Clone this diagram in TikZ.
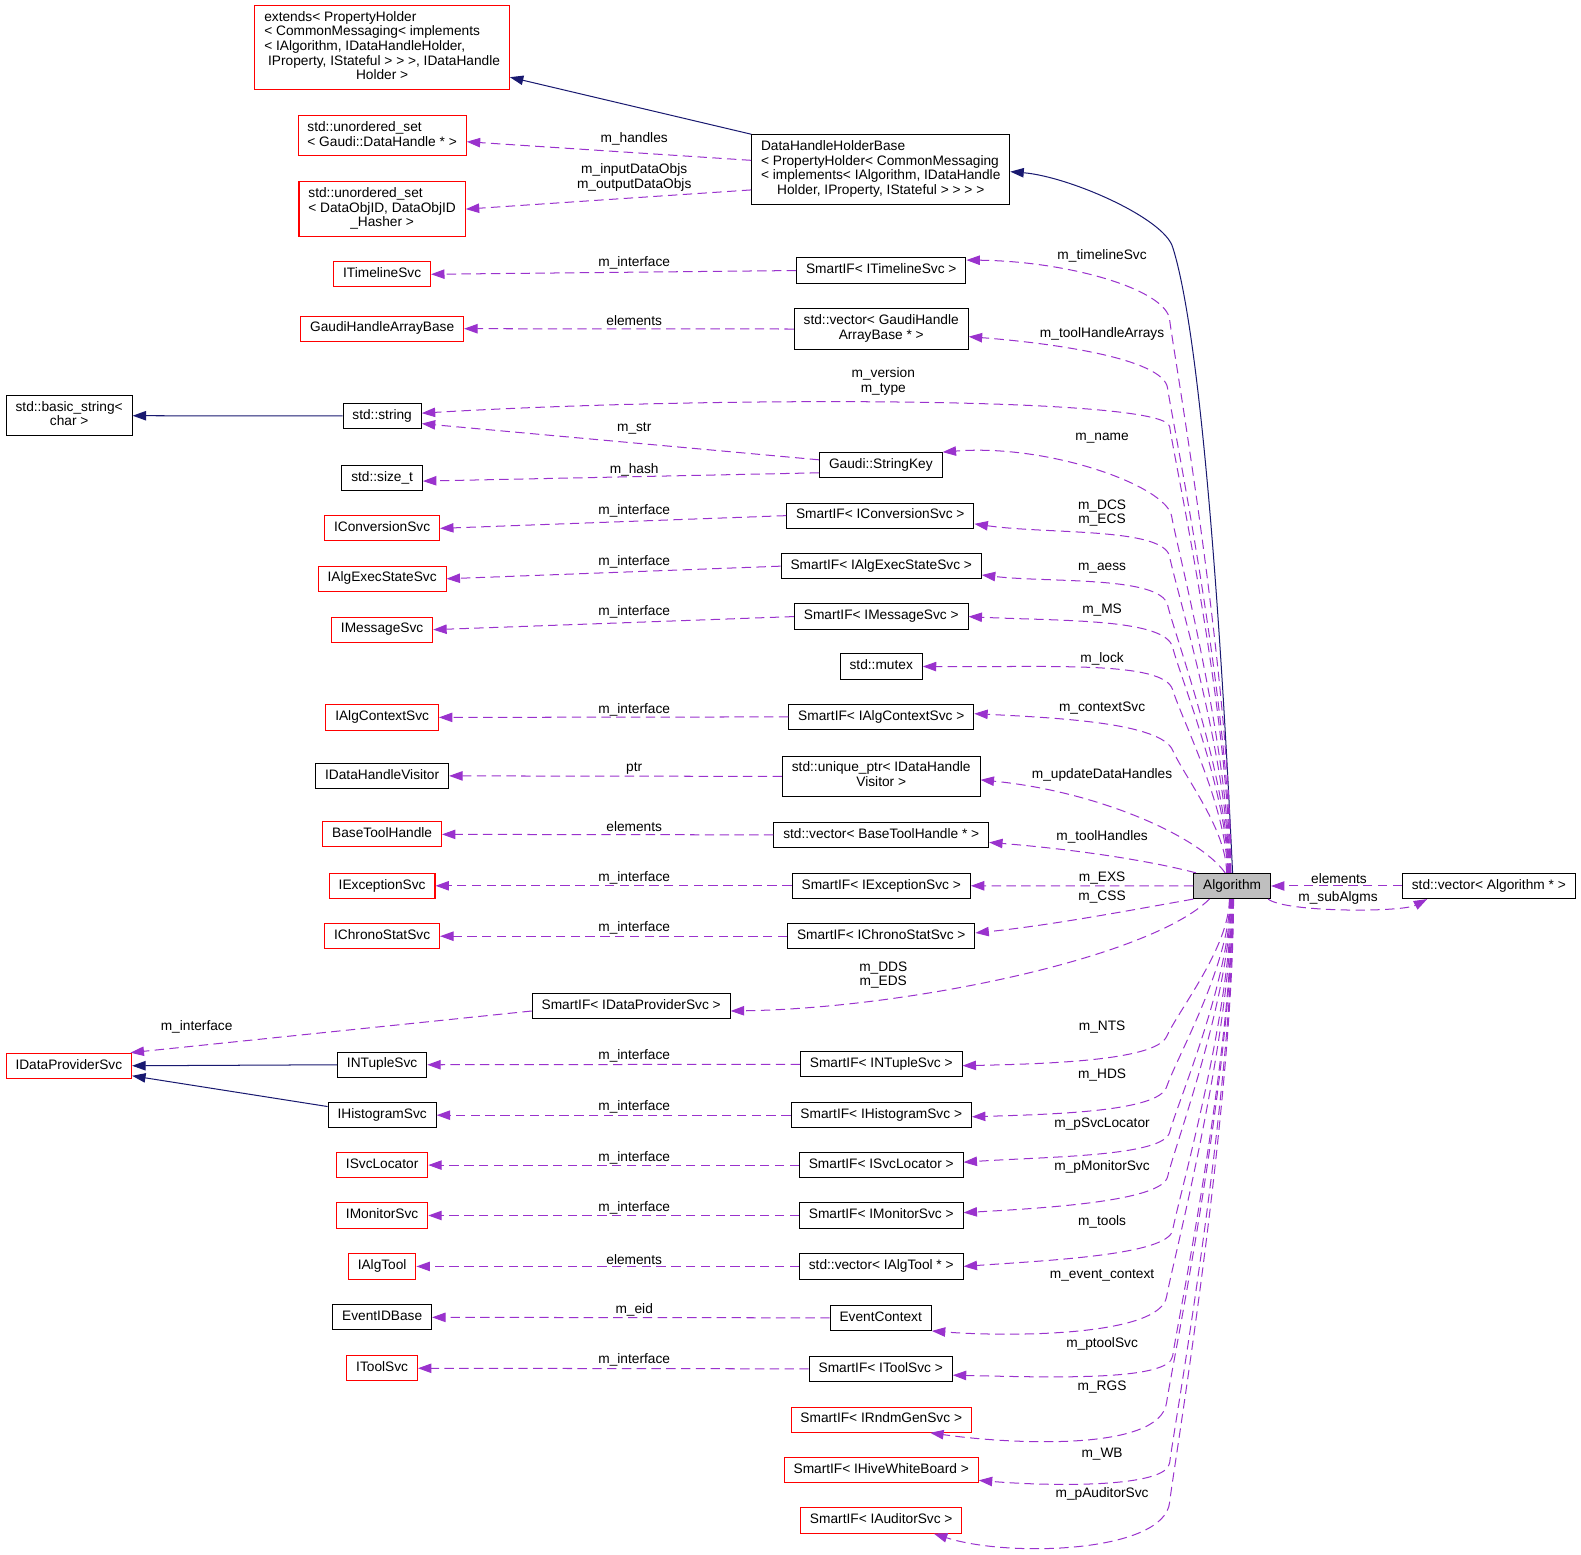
\documentclass[tikz,border=0pt]{standalone}
\usepackage{fontspec}
\setmainfont{Liberation Sans}
\usetikzlibrary{arrows.meta}

\definecolor{edgepurple}{HTML}{9A32CD}
\definecolor{edgenavy}{HTML}{191970}
\definecolor{curgray}{HTML}{BFBFBF}

\newcommand\doxlines[1]{\begin{tabular}{@{}l@{}}#1\end{tabular}}
\newcommand\doxlast[1]{\multicolumn{1}{@{}c@{}}{#1}}

\tikzset{
	docbox/.style={draw=black, line width=0.75pt, inner xsep=7pt, inner ysep=4pt},
	cls/.style={docbox, minimum height=18.75pt, text height=7.2pt, text depth=2.4pt},
	mcls/.style={docbox},
	redcls/.style={cls, draw=red},
	redmcls/.style={mcls, draw=red},
	curcls/.style={cls, fill=curgray},
	member/.style={edgepurple, line width=0.75pt, dash pattern=on 7pt off 4pt, -{Triangle[length=10pt,width=7pt]}},
	inherit/.style={edgenavy, line width=0.75pt, -{Triangle[length=10pt,width=7pt]}},
	lbl/.style={inner sep=0pt, align=center},
}

\begin{document}
\begin{tikzpicture}[x=0.75pt, y=0.75pt, font=\fontsize{10.2}{10.9}\selectfont]
	\useasboundingbox (0,0) rectangle (1568,-1542);

	% left column
	\node [redmcls] (ext) at (379,-47.3) {\doxlines{extends< PropertyHolder\\< CommonMessaging< implements\\< IAlgorithm, IDataHandleHolder,\\\ IProperty, IStateful > > >, IDataHandle\\\doxlast{Holder >}}};
	\node [redmcls] (hset) at (379,-134.7) {\doxlines{std::unordered\_set\\\doxlast{< Gaudi::DataHandle * >}}};
	\node [redmcls] (oset) at (379,-207.4) {\doxlines{std::unordered\_set\\< DataObjID, DataObjID\\\doxlast{\_Hasher >}}};
	\node [redcls] (itl) at (379,-272) {ITimelineSvc};
	\node [redcls] (ghab) at (379,-326) {GaudiHandleArrayBase};
	\node [mcls] (bstr) at (68.6,-412.3) {\doxlines{std::basic\_string<\\\doxlast{char >}}};
	\node [cls] (str) at (379,-412.5) {std::string};
	\node [cls] (sizet) at (379,-474.3) {std::size\_t};
	\node [redcls] (icnv) at (379,-524) {IConversionSvc};
	\node [redcls] (iaes) at (379,-574) {IAlgExecStateSvc};
	\node [redcls] (imsg) at (379,-624.5) {IMessageSvc};
	\node [redcls] (iactx) at (379,-711.5) {IAlgContextSvc};
	\node [cls] (idhv) at (379,-769.5) {IDataHandleVisitor};
	\node [redcls] (bth) at (379,-827.5) {BaseToolHandle};
	\node [redcls] (iexc) at (379,-878.5) {IExceptionSvc};
	\node [redcls] (ichr) at (379,-928.5) {IChronoStatSvc};
	\node [redcls] (idps) at (68.3,-1057) {IDataProviderSvc};
	\node [cls] (ints) at (379,-1056) {INTupleSvc};
	\node [cls] (ihst) at (379,-1106) {IHistogramSvc};
	\node [redcls] (isl) at (379,-1155.5) {ISvcLocator};
	\node [redcls] (imon) at (379,-1205.5) {IMonitorSvc};
	\node [redcls] (iat) at (379,-1256) {IAlgTool};
	\node [cls] (eid) at (379,-1306.5) {EventIDBase};
	\node [redcls] (itsvc) at (379,-1357) {IToolSvc};

	% middle column
	\node [mcls] (dhhb) at (873.5,-168) {\doxlines{DataHandleHolderBase\\< PropertyHolder< CommonMessaging\\< implements< IAlgorithm, IDataHandle\\\doxlast{Holder, IProperty, IStateful > > > >}}};
	\node [cls] (sitl) at (874,-268.3) {SmartIF< ITimelineSvc >};
	\node [mcls] (vghab) at (874,-326.3) {\doxlines{std::vector< GaudiHandle\\\doxlast{ArrayBase * >}}};
	\node [cls] (skey) at (873.6,-461.4) {Gaudi::StringKey};
	\node [cls] (sicnv) at (873,-511.4) {SmartIF< IConversionSvc >};
	\node [cls] (siaes) at (874,-561.5) {SmartIF< IAlgExecStateSvc >};
	\node [cls] (simsg) at (874,-611.5) {SmartIF< IMessageSvc >};
	\node [cls] (mtx) at (874,-661) {std::mutex};
	\node [cls] (siactx) at (874,-711) {SmartIF< IAlgContextSvc >};
	\node [mcls] (updh) at (874,-770) {\doxlines{std::unique\_ptr< IDataHandle\\\doxlast{Visitor >}}};
	\node [cls] (vbth) at (874,-828) {std::vector< BaseToolHandle * >};
	\node [cls] (siexc) at (874,-878.5) {SmartIF< IExceptionSvc >};
	\node [cls] (sichr) at (874,-928.5) {SmartIF< IChronoStatSvc >};
	\node [cls] (sidps) at (626,-997.5) {SmartIF< IDataProviderSvc >};
	\node [cls] (sints) at (874,-1055.5) {SmartIF< INTupleSvc >};
	\node [cls] (sihst) at (874,-1106) {SmartIF< IHistogramSvc >};
	\node [cls] (sisl) at (874,-1155.5) {SmartIF< ISvcLocator >};
	\node [cls] (simon) at (874,-1205.5) {SmartIF< IMonitorSvc >};
	\node [cls] (vat) at (874,-1256) {std::vector< IAlgTool * >};
	\node [cls] (evc) at (873.5,-1307) {EventContext};
	\node [cls] (sitsvc) at (873.5,-1357.6) {SmartIF< IToolSvc >};
	\node [redcls] (sirnd) at (874,-1408) {SmartIF< IRndmGenSvc >};
	\node [redcls] (shwb) at (874,-1458) {SmartIF< IHiveWhiteBoard >};
	\node [redcls] (saud) at (874,-1508) {SmartIF< IAuditorSvc >};

	% right
	\node [curcls] (alg) at (1222,-878.7) {Algorithm};
	\node [cls] (valg) at (1476.6,-878.7) {std::vector< Algorithm * >};

	% inheritance
	\draw [inherit] (alg.88) .. controls (1210,-600) and (1190,-330) .. (1163,-245) .. controls (1154,-216) and (1060,-175) .. (dhhb.-1);
	\draw [inherit] (dhhb.north west) -- (ext.-13.6);
	\draw [inherit] (str.west) -- (bstr.east);
	\draw [inherit] (ints.west) -- (idps.east);
	\draw [inherit] (ihst.171) -- (idps.-9.7);

	% members of DataHandleHolderBase and the middle column
	\draw [member] (dhhb.176) -- (hset.-4.8);
	\draw [member] (dhhb.189.5) -- (oset.east);
	\draw [member] (sitl.west) -- (itl.east);
	\draw [member] (vghab.west) -- (ghab.east);
	\draw [member] (skey.175) -- (str.-11);
	\draw [member] (skey.187.6) -- (sizet.-4.5);
	\draw [member] (sicnv.west) -- (icnv.east);
	\draw [member] (siaes.west) -- (iaes.east);
	\draw [member] (simsg.west) -- (imsg.east);
	\draw [member] (siactx.west) -- (iactx.east);
	\draw [member] (updh.west) -- (idhv.east);
	\draw [member] (vbth.west) -- (bth.east);
	\draw [member] (siexc.west) -- (iexc.east);
	\draw [member] (sichr.west) -- (ichr.east);
	\draw [member] (sidps.183) -- (idps.12);
	\draw [member] (sints.west) -- (ints.east);
	\draw [member] (sihst.west) -- (ihst.east);
	\draw [member] (sisl.west) -- (isl.east);
	\draw [member] (simon.west) -- (imon.east);
	\draw [member] (vat.west) -- (iat.east);
	\draw [member] (evc.west) -- (eid.east);
	\draw [member] (sitsvc.west) -- (itsvc.east);

	% members of Algorithm, upwards
	\draw [member] (alg.95) .. controls (1221,-674) and (1163.4,-346.8) .. (1160,-317) .. controls (1156.6,-287.2) and (1060,-259) .. (sitl.7);
	\draw [member] (alg.97) .. controls (1220.5,-697.6) and (1162,-414.7) .. (1158,-385) .. controls (1154,-355) and (1040,-340) .. (vghab.-5);
	\draw [member] (alg.100) .. controls (1219.8,-711) and (1164,-452.7) .. (1160,-423) .. controls (1156,-393) and (700,-393) .. (str.4.7);
	\draw [member] (alg.102) .. controls (1219.3,-742) and (1167,-541.6) .. (1162,-512) .. controls (1157,-482) and (1040,-440) .. (skey.north east);
	\draw [member] (alg.104) .. controls (1218.9,-756) and (1165.6,-581.5) .. (1160,-552) .. controls (1154,-523) and (1040,-530) .. (sicnv.-5.6);
	\draw [member] (alg.106) .. controls (1218.4,-773) and (1164.7,-629) .. (1158,-600) .. controls (1151,-571) and (1040,-578) .. (siaes.-5);
	\draw [member] (alg.108) .. controls (1218,-787.6) and (1170.3,-671) .. (1163,-642) .. controls (1156,-613) and (1050,-616) .. (simsg.east);
	\draw [member] (alg.110) .. controls (1217.5,-802) and (1171.7,-712.7) .. (1163,-684) .. controls (1154,-655) and (1040,-662) .. (mtx.east);
	\draw [member] (alg.113) .. controls (1216.7,-823) and (1175,-771) .. (1163,-744) .. controls (1151,-717) and (1050,-712) .. (siactx.2.5);
	\draw [member] (alg.118) .. controls (1190,-830) and (1090,-785) .. (updh.-2);
	\draw [member] (alg.160) .. controls (1130,-851) and (1050,-841) .. (vbth.-4);
	\draw [member] (alg.west) -- (siexc.east);

	% members of Algorithm, downwards
	\draw [member] (alg.south west) .. controls (1120,-903) and (1040,-918) .. (sichr.2.5);
	\draw [member] (alg.210) .. controls (1140,-950) and (900,-1000) .. (sidps.-3);
	\draw [member] (alg.258) .. controls (1219.3,-939) and (1169.5,-1000.8) .. (1157,-1028) .. controls (1146.5,-1050.7) and (1050,-1055) .. (sints.-1.5);
	\draw [member] (alg.260) .. controls (1219.8,-956.5) and (1166.6,-1049.6) .. (1157,-1078) .. controls (1149,-1102) and (1050,-1105) .. (sihst.-1);
	\draw [member] (alg.262) .. controls (1220.2,-972) and (1167.6,-1094) .. (1160,-1123) .. controls (1154,-1147) and (1040,-1147) .. (sisl.2.8);
	\draw [member] (alg.264) .. controls (1220.7,-987.6) and (1164.7,-1137.8) .. (1158,-1167) .. controls (1152.5,-1191) and (1040,-1198) .. (simon.2);
	\draw [member] (alg.266) .. controls (1221.1,-1006) and (1168.3,-1190.5) .. (1163,-1220) .. controls (1158.6,-1244.6) and (1040,-1250) .. (vat.east);
	\draw [member] (alg.268) .. controls (1221.6,-1029) and (1161.9,-1256.4) .. (1157,-1286) .. controls (1150.5,-1325.5) and (1000,-1326) .. (evc.south east);
	\draw [member] (alg.270) .. controls (1222,-1050) and (1167,-1315.3) .. (1163,-1345) .. controls (1159.7,-1370) and (1040,-1366) .. (sitsvc.-5.9);
	\draw [member] (alg.272) .. controls (1222.4,-1066) and (1161,-1361.3) .. (1157,-1391) .. controls (1150.5,-1440.5) and (1000,-1432) .. (sirnd.-15);
	\draw [member] (alg.274) .. controls (1222.9,-1087) and (1163.4,-1421.2) .. (1160,-1451) .. controls (1157,-1476) and (1040,-1474) .. (shwb.-6);
	\draw [member] (alg.276) .. controls (1223.3,-1100.7) and (1163.2,-1460.2) .. (1160,-1490) .. controls (1154.7,-1540) and (1000,-1545) .. (saud.-14);

	% sub algorithms
	\draw [member] (alg.340) .. controls (1275,-905) and (1390,-905) .. (valg.192);
	\draw [member] (valg.west) -- (alg.east);

	% edge labels
	\node [lbl] (lbhnd) at (629,-138) {m\_handles};
	\node [lbl] (lbobj) at (629,-176) {m\_inputDataObjs\\m\_outputDataObjs};
	\node [lbl] (lbtl) at (1093,-254) {m\_timelineSvc};
	\node [lbl] (lbitl) at (629,-261) {m\_interface};
	\node [lbl] (lbghab) at (629,-318) {elements};
	\node [lbl] (lbtha) at (1093,-331) {m\_toolHandleArrays};
	\node [lbl] (lbver) at (876,-378) {m\_version\\m\_type};
	\node [lbl] (lbstr) at (629,-425) {m\_str};
	\node [lbl] (lbname) at (1093,-435) {m\_name};
	\node [lbl] (lbhash) at (629,-466) {m\_hash};
	\node [lbl] (lbdcs) at (1093,-509) {m\_DCS\\m\_ECS};
	\node [lbl] (lbicnv) at (629,-507) {m\_interface};
	\node [lbl] (lbaess) at (1093,-563) {m\_aess};
	\node [lbl] (lbiaes) at (629,-557) {m\_interface};
	\node [lbl] (lbms) at (1093,-605) {m\_MS};
	\node [lbl] (lbimsg) at (629,-607) {m\_interface};
	\node [lbl] (lblock) at (1093,-653) {m\_lock};
	\node [lbl] (lbctx) at (1093,-702) {m\_contextSvc};
	\node [lbl] (lbictx) at (629,-704) {m\_interface};
	\node [lbl] (lbudh) at (1093,-769) {m\_updateDataHandles};
	\node [lbl] (lbptr) at (629,-762) {ptr};
	\node [lbl] (lbbth) at (629,-820) {elements};
	\node [lbl] (lbth) at (1093,-830) {m\_toolHandles};
	\node [lbl] (lbexs) at (1093,-871) {m\_EXS};
	\node [lbl] (lbiexc) at (629,-871) {m\_interface};
	\node [lbl] (lbcss) at (1093,-890) {m\_CSS};
	\node [lbl] (lbichr) at (629,-920) {m\_interface};
	\node [lbl] (lbdds) at (876,-967) {m\_DDS\\m\_EDS};
	\node [lbl] (lbidps) at (195,-1018) {m\_interface};
	\node [lbl] (lbnts) at (1093,-1019) {m\_NTS};
	\node [lbl] (lbints) at (629,-1047) {m\_interface};
	\node [lbl] (lbhds) at (1093,-1066) {m\_HDS};
	\node [lbl] (lbihst) at (629,-1098) {m\_interface};
	\node [lbl] (lbsl) at (1093,-1115) {m\_pSvcLocator};
	\node [lbl] (lbisl) at (629,-1148) {m\_interface};
	\node [lbl] (lbmon) at (1093,-1157) {m\_pMonitorSvc};
	\node [lbl] (lbimon) at (629,-1198) {m\_interface};
	\node [lbl] (lbtools) at (1093,-1212) {m\_tools};
	\node [lbl] (lbiat) at (629,-1249) {elements};
	\node [lbl] (lbevc) at (1093,-1265) {m\_event\_context};
	\node [lbl] (lbeid) at (629,-1299) {m\_eid};
	\node [lbl] (lbtsvc) at (1093,-1333) {m\_ptoolSvc};
	\node [lbl] (lbitsvc) at (629,-1349) {m\_interface};
	\node [lbl] (lbrgs) at (1093,-1376) {m\_RGS};
	\node [lbl] (lbwb) at (1093,-1442) {m\_WB};
	\node [lbl] (lbaud) at (1093,-1482) {m\_pAuditorSvc};
	\node [lbl] (lbelem) at (1328,-871) {elements};
	\node [lbl] (lbsub) at (1327,-891) {m\_subAlgms};
\end{tikzpicture}
\end{document}
